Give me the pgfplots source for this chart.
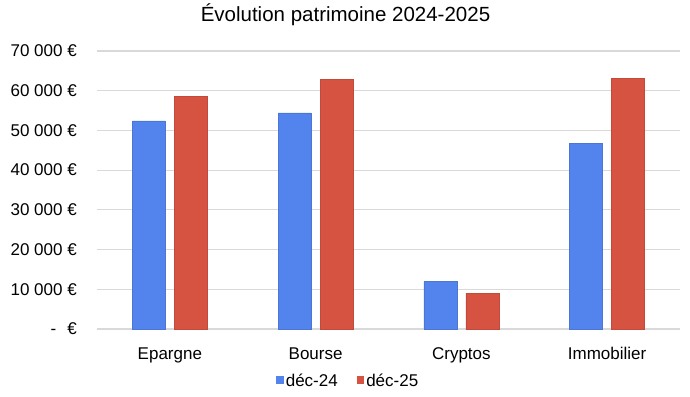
\documentclass[border=0pt]{standalone}
\usepackage{fontspec}
\setmainfont{Liberation Sans}
\usepackage{pgfplots}
\pgfplotsset{compat=1.18}
\definecolor{c24}{RGB}{83,131,236}
\definecolor{c25}{RGB}{214,82,65}
\definecolor{gridc}{RGB}{217,217,217}
\begin{document}
\begin{tikzpicture}
\path[use as bounding box] (-97bp,-68bp) rectangle (593bp,329bp);
\begin{axis}[
  at={(0,0)}, anchor=south west,
  scale only axis, width=583bp, height=278bp,
  xmin=-0.5, xmax=3.5, ymin=0, ymax=70000,
  scaled y ticks=false,
  ybar=9bp, bar width=33bp,
  xtick={0,1,2,3}, xticklabels={Epargne,Bourse,Cryptos,Immobilier},
  ytick={0,10000,20000,30000,40000,50000,60000,70000},
  yticklabels={{-\hspace{11bp}€},{10 000 €},{20 000 €},{30 000 €},{40 000 €},{50 000 €},{60 000 €},{70 000 €}},
  ymajorgrids, grid style={gridc, line width=1.2bp},
  axis line style={draw=none}, major tick length=0pt,
  tick label style={font=\fontsize{17bp}{20bp}\selectfont, inner sep=0pt},
  yticklabel style={anchor=east, xshift=-20bp},
  xticklabel style={anchor=base, yshift=-30bp},
  title={Évolution patrimoine 2024-2025},
  title style={font=\fontsize{20.5bp}{24bp}\selectfont, anchor=base, at={(0.5,1)}, yshift=23.5bp, xshift=-43bp, inner sep=0pt},
  legend columns=2,
  legend style={at={(0.431,-0.187)}, anchor=center, draw=none, inner sep=0pt,
    font=\fontsize{17bp}{20bp}\selectfont,
    /tikz/every even column/.append style={column sep=17bp}},
  legend image code/.code={\fill[#1,draw=none] (0bp,-3bp) rectangle (7.5bp,4.5bp);},
]
\addplot[fill=c24, draw=c24!90!black, line width=0.4bp] coordinates {(0,52400) (1,54400) (2,12000) (3,46700)};
\addplot[fill=c25, draw=c25!90!black, line width=0.4bp] coordinates {(0,58600) (1,62800) (2,9000) (3,63100)};
\legend{déc-24, déc-25}
\end{axis}
\end{tikzpicture}
\end{document}
